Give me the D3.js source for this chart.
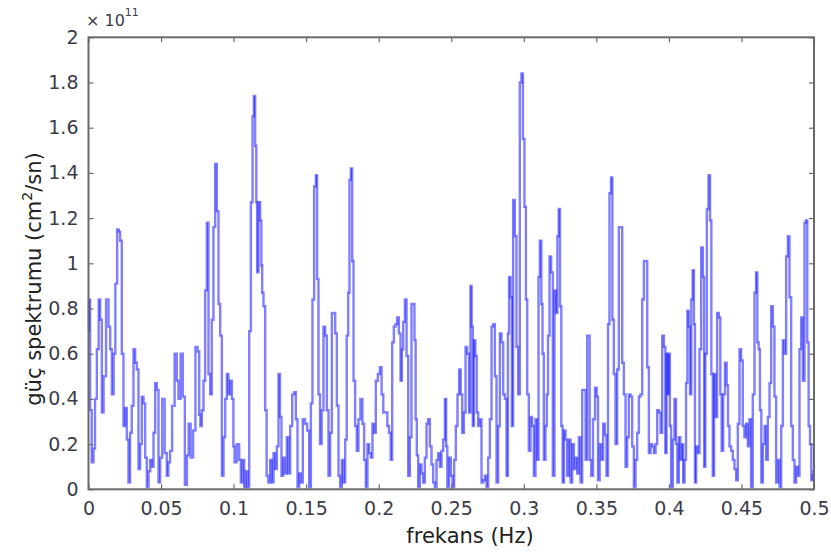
<!DOCTYPE html>
<html><head><meta charset="utf-8">
<script src="https://cdn.jsdelivr.net/npm/d3@7"></script>
<style>
html,body{margin:0;padding:0;background:#fff;}
svg{display:block;}
</style></head>
<body>
<svg id="chart" width="831" height="559"></svg>
<script>
// frequency (Hz)
const freq = [
0.0000,0.0007,0.0015,0.0029,0.0040,0.0050,0.0065,0.0075,0.0086,0.0098,
0.0110,0.0132,0.0144,0.0155,0.0167,0.0180,0.0190,0.0205,0.0212,0.0224,
0.0235,0.0247,0.0258,0.0270,0.0281,0.0292,0.0304,0.0316,0.0327,0.0339,
0.0350,0.0362,0.0373,0.0385,0.0396,0.0408,0.0420,0.0431,0.0442,0.0454,
0.0465,0.0477,0.0488,0.0500,0.0516,0.0534,0.0545,0.0556,0.0568,0.0584,
0.0603,0.0614,0.0626,0.0644,0.0656,0.0672,0.0685,0.0695,0.0713,0.0729,
0.0745,0.0759,0.0767,0.0775,0.0787,0.0798,0.0810,0.0821,0.0833,0.0844,
0.0855,0.0867,0.0879,0.0890,0.0902,0.0913,0.0925,0.0936,0.0948,0.0959,
0.0970,0.0982,0.0994,
0.1003,0.1010,0.1033,0.1044,0.1056,0.1067,0.1079,0.1090,0.1102,0.1113,
0.1125,0.1136,0.1143,0.1154,0.1159,0.1166,0.1177,0.1189,0.1194,0.1200,
0.1212,0.1223,0.1232,0.1246,0.1258,0.1269,0.1281,0.1292,0.1304,0.1315,
0.1324,0.1336,0.1347,0.1361,0.1373,0.1384,0.1396,0.1412,0.1423,0.1435,
0.1446,0.1458,0.1469,0.1485,0.1499,0.1515,0.1527,0.1538,0.1549,0.1561,
0.1572,0.1579,0.1591,0.1600,0.1614,0.1625,0.1637,0.1648,0.1660,0.1671,
0.1683,0.1694,0.1706,0.1717,0.1729,0.1740,0.1752,0.1763,0.1775,0.1784,
0.1795,0.1802,0.1814,0.1821,0.1832,0.1843,0.1855,0.1866,0.1882,0.1894,
0.1905,0.1917,0.1928,0.1940,0.1951,0.1963,0.1974,0.1986,
0.2002,0.2014,0.2026,0.2037,0.2055,0.2064,0.2078,0.2087,0.2099,0.2110,
0.2122,0.2133,0.2145,0.2156,0.2163,0.2175,0.2186,0.2198,0.2209,0.2220,
0.2232,0.2243,0.2250,0.2259,0.2266,0.2278,0.2289,0.2301,0.2312,0.2324,
0.2335,0.2347,0.2358,0.2370,0.2381,0.2393,0.2404,0.2416,0.2427,0.2439,
0.2450,0.2462,0.2468,0.2478,0.2491,0.2503,0.2514,0.2526,0.2537,0.2549,
0.2560,0.2570,0.2581,0.2593,0.2604,0.2616,0.2629,0.2636,0.2645,0.2652,
0.2661,0.2671,0.2680,0.2691,0.2703,0.2714,0.2726,0.2737,0.2749,0.2760,
0.2772,0.2783,0.2795,0.2806,0.2818,0.2829,0.2841,0.2852,0.2864,0.2875,
0.2887,0.2894,0.2903,0.2914,0.2921,0.2932,0.2944,0.2955,0.2967,0.2978,
0.2990,0.2998,0.3011,0.3018,0.3029,0.3040,0.3052,0.3063,0.3075,0.3086,
0.3098,0.3105,0.3116,0.3126,0.3132,0.3144,0.3155,0.3162,0.3172,0.3183,
0.3194,0.3206,0.3217,0.3227,0.3236,0.3245,0.3254,0.3263,0.3272,0.3282,
0.3293,0.3305,0.3316,0.3328,0.3339,0.3351,0.3362,0.3374,0.3385,0.3397,
0.3408,0.3420,0.3431,0.3443,0.3449,0.3459,0.3470,0.3484,0.3498,0.3507,
0.3516,0.3530,0.3541,0.3553,0.3564,0.3576,0.3585,0.3596,0.3606,0.3615,
0.3626,0.3638,0.3649,0.3661,0.3672,0.3684,0.3695,0.3707,0.3718,0.3730,
0.3741,0.3753,0.3764,0.3776,0.3787,0.3799,0.3810,0.3822,0.3833,0.3845,
0.3856,0.3868,0.3879,0.3891,0.3902,0.3914,0.3925,0.3937,0.3948,0.3960,
0.3971,
0.3980,0.3987,0.3994,0.4003,0.4010,0.4021,0.4033,0.4044,0.4054,0.4063,
0.4074,0.4084,0.4095,0.4102,0.4113,0.4123,0.4132,0.4141,0.4150,0.4159,
0.4168,0.4177,0.4182,0.4194,0.4205,0.4217,0.4228,0.4240,0.4246,0.4256,
0.4267,0.4279,0.4288,0.4297,0.4308,0.4315,0.4327,0.4338,0.4350,0.4359,
0.4368,0.4380,0.4393,0.4403,0.4412,0.4423,0.4435,0.4446,0.4458,0.4469,
0.4481,0.4492,0.4503,0.4515,0.4526,0.4538,0.4549,0.4561,0.4572,0.4584,
0.4596,0.4605,0.4614,0.4623,0.4632,0.4642,0.4653,0.4665,0.4676,0.4688,
0.4699,0.4711,0.4722,0.4733,0.4745,0.4757,0.4768,0.4780,0.4791,0.4802,
0.4814,0.4825,0.4837,0.4848,0.4860,0.4871,0.4883,0.4894,0.4906,0.4917,
0.4929,0.4940,0.4949,0.4958,0.4968,0.4977,0.4986,0.4993,0.5000
];
// power spectrum (x 1e11 cm^2/sn)
const power = [
0.70,0.84,0.35,0.12,0.18,0.40,0.62,0.84,0.75,0.34,
0.50,0.84,0.72,0.62,0.42,0.60,0.91,1.15,1.14,1.10,
0.60,0.28,0.36,0.22,0.03,0.25,0.37,0.62,0.56,0.53,
0.09,0.20,0.41,0.38,0.14,0.01,0.08,0.13,0.10,0.25,
0.47,0.44,0.03,0.14,0.40,0.16,0.06,0.12,0.17,0.37,
0.60,0.48,0.40,0.60,0.41,0.02,0.15,0.29,0.14,0.26,
0.63,0.61,0.33,0.28,0.35,0.48,0.88,1.18,0.51,0.42,
0.75,1.16,1.44,1.23,0.82,0.68,0.06,0.23,0.40,0.51,
0.42,0.48,0.40,
0.19,0.12,0.20,0.13,0.03,0.13,0.01,0.08,0.01,0.70,
1.27,1.65,1.74,1.52,1.27,0.96,1.27,1.19,0.99,0.87,
0.81,0.35,0.06,0.03,0.13,0.03,0.16,0.09,0.19,0.51,
0.32,0.06,0.14,0.07,0.23,0.07,0.28,0.42,0.43,0.31,
0.01,0.07,0.03,0.31,0.29,0.26,0.01,0.38,0.84,1.34,
1.39,0.93,0.42,0.20,0.35,0.72,0.68,0.35,0.06,0.25,
0.78,0.78,0.69,0.37,0.06,0.01,0.13,0.03,0.22,0.68,
0.87,1.37,1.42,1.01,0.48,0.28,0.17,0.31,0.40,0.29,
0.13,0.01,0.20,0.16,0.14,0.29,0.25,0.48,
0.51,0.54,0.42,0.34,0.34,0.28,0.25,0.13,0.65,0.72,
0.73,0.76,0.69,0.48,0.62,0.74,0.84,0.59,0.06,0.23,
0.82,0.82,0.66,0.31,0.15,0.01,0.11,0.07,0.03,0.14,
0.29,0.31,0.19,0.11,0.03,0.01,0.13,0.16,0.10,0.17,
0.22,0.40,0.19,0.01,0.14,0.06,0.01,0.13,0.28,0.42,
0.53,0.42,0.25,0.34,0.63,0.60,0.34,0.90,0.72,0.28,
0.66,0.59,0.34,0.28,0.31,0.03,0.04,0.06,0.01,0.14,
0.31,0.72,0.73,0.50,0.03,0.28,0.69,0.65,0.42,0.40,
0.06,0.69,0.94,0.85,0.28,1.28,1.12,0.63,0.42,1.80,
1.84,1.55,1.25,0.84,0.42,0.17,0.32,0.28,0.06,0.31,
0.13,0.94,1.10,0.82,0.60,0.13,0.28,0.42,0.68,1.03,
0.96,0.06,0.88,0.78,1.12,1.24,0.81,0.28,0.03,0.26,
0.22,0.06,0.22,0.03,0.20,0.09,0.14,0.07,0.23,0.03,
0.44,0.44,0.13,0.68,0.68,0.13,0.06,0.31,0.45,0.41,
0.04,0.20,0.13,0.29,0.24,0.06,0.73,1.31,1.38,0.75,
0.51,0.20,0.53,1.16,1.16,0.56,0.42,0.10,0.23,0.42,
0.41,0.19,0.01,0.13,0.25,0.41,0.42,0.84,1.01,1.01,
0.54,0.16,0.20,0.19,0.16,0.20,0.35,0.34,0.25,0.68,
0.63,
0.16,0.60,0.42,0.60,0.28,0.01,0.22,0.40,0.20,0.03,
0.23,0.13,0.20,0.03,0.13,0.47,0.79,0.72,0.42,0.84,
0.97,0.73,0.03,0.19,0.16,0.62,1.07,0.94,0.10,0.60,
1.24,1.39,1.19,0.51,0.06,0.51,0.32,0.78,0.76,0.42,
0.17,0.42,0.56,0.46,0.28,0.19,0.17,0.13,0.09,0.04,
0.29,0.62,0.57,0.28,0.23,0.29,0.19,0.31,0.01,0.42,
0.87,0.96,0.65,0.62,0.35,0.03,0.20,0.28,0.13,0.32,
0.47,0.81,0.72,0.41,0.03,0.13,0.01,0.28,0.66,0.60,
1.03,1.12,0.85,0.28,0.13,0.03,0.10,0.06,0.62,0.76,
0.48,1.18,1.19,0.65,0.28,0.20,0.04,0.06,0.08
];
const xTicks = [0,0.05,0.1,0.15,0.2,0.25,0.3,0.35,0.4,0.45,0.5];
const yTicks = [0,0.2,0.4,0.6,0.8,1,1.2,1.4,1.6,1.8,2];
const xLabel = "frekans (Hz)";
const yLabelMain = "güç spektrumu (cm";
const yLabelSup = "2";
const yLabelEnd = "/sn)";

const svg = d3.select("#chart");
const L = 88.5, R = 814, T = 37.3, B = 489.3;
const x = d3.scaleLinear().domain([0, 0.5]).range([L, R]);
const y = d3.scaleLinear().domain([0, 2]).range([B, T]);

const pts = freq.map((f, i) => [f, power[i]]);
const segs = d3.pairs(pts);

// line drawn piecewise (step-like, near-vertical strokes) so overlaps darken
const seg = d3.line().x(d => x(d[0])).y(d => y(d[1])).curve(d3.curveStep);
svg.append("g")
  .selectAll("path").data(segs).join("path")
  .attr("d", d => seg(d))
  .attr("fill", "none")
  .attr("stroke", "#0000ff")
  .attr("stroke-opacity", 0.5)
  .attr("stroke-width", 2.4)
  .attr("stroke-linecap", "butt");

const fmt = d => (d === 0 ? "0" : String(+d.toFixed(2)));
const axisColor = "#6a6a6a";
const labelColor = "#3c3c48";
const tickFont = "DejaVu Sans, Verdana, sans-serif";

function styleAxis(g, showText) {
  g.select(".domain").remove();
  g.selectAll(".tick line").attr("stroke", axisColor).attr("stroke-width", 1.2);
  g.selectAll(".tick text").attr("fill", labelColor)
    .style("font-family", tickFont).style("font-size", "19px");
  if (!showText) g.selectAll(".tick text").remove();
}

svg.append("g").attr("transform", `translate(0,${B})`)
  .call(d3.axisBottom(x).tickValues(xTicks).tickFormat(fmt).tickSize(-5).tickPadding(12))
  .call(g => styleAxis(g, true));
svg.append("g").attr("transform", `translate(0,${T})`)
  .call(d3.axisTop(x).tickValues(xTicks).tickSize(-5))
  .call(g => styleAxis(g, false));
svg.append("g").attr("transform", `translate(${L},0)`)
  .call(d3.axisLeft(y).tickValues(yTicks).tickFormat(fmt).tickSize(-5).tickPadding(10))
  .call(g => styleAxis(g, true));
svg.append("g").attr("transform", `translate(${R},0)`)
  .call(d3.axisRight(y).tickValues(yTicks).tickSize(-5))
  .call(g => styleAxis(g, false));

// frame
svg.append("rect").attr("x", L).attr("y", T).attr("width", R - L).attr("height", B - T)
  .attr("fill", "none").attr("stroke", axisColor).attr("stroke-width", 2);

// exponent
const ex = svg.append("text").attr("x", 86).attr("y", 26)
  .attr("fill", labelColor).style("font-family", tickFont).style("font-size", "16px");
ex.append("tspan").text("× 10");
ex.append("tspan").attr("dy", -10).style("font-size", "11px").text("11");

// x label
svg.append("text").attr("x", 470).attr("y", 543).attr("text-anchor", "middle")
  .attr("fill", "#222").style("font-family", tickFont).style("font-size", "21px")
  .text(xLabel);

// y label
const yl = svg.append("text").attr("transform", "translate(41,279) rotate(-90)")
  .attr("text-anchor", "middle").attr("fill", "#222")
  .style("font-family", tickFont).style("font-size", "21px");
yl.append("tspan").text(yLabelMain);
yl.append("tspan").attr("dy", -9).style("font-size", "14px").text(yLabelSup);
yl.append("tspan").attr("dy", 9).text(yLabelEnd);
</script>
</body></html>
